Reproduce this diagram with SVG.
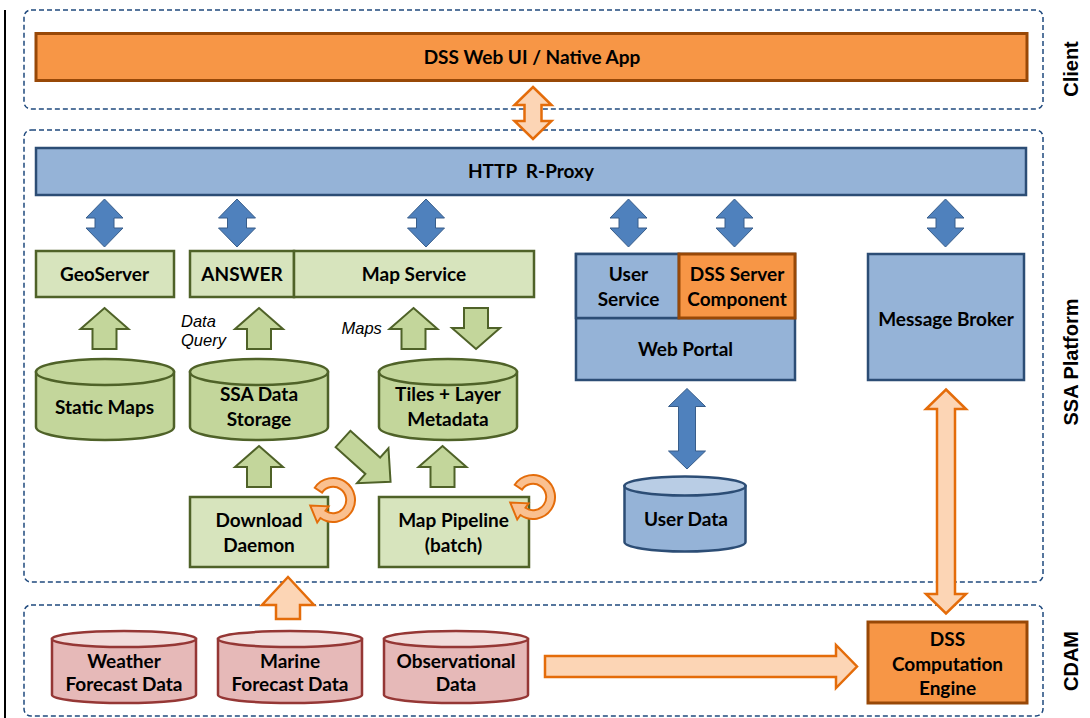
<svg xmlns="http://www.w3.org/2000/svg" xmlns:xlink="http://www.w3.org/1999/xlink" width="1090" height="718" viewBox="0 0 1090 718">
<style>
.grp{fill:none;stroke:#1F497D;stroke-width:1.5;stroke-dasharray:5 3}
.org{fill:#F79646;stroke:#984807;stroke-width:3}
.blu{fill:#95B3D7;stroke:#2C4D75;stroke-width:2.5}
.grn{fill:#D7E4BD;stroke:#4F6228;stroke-width:2.5}
.gcyl{fill:#C3D69B;stroke:#4F6228;stroke-width:2.5}
.rcyl{fill:#E6B9B8;stroke:#953735;stroke-width:2.5}
.rtop{fill:#F2DCDB;stroke:#953735;stroke-width:2.5}
.bcyl{fill:#95B3D7;stroke:#2C4D75;stroke-width:2.5}
.btop{fill:#B9CDE5;stroke:#2C4D75;stroke-width:2.5}
.garr{fill:#C3D69B;stroke:#4F6228;stroke-width:2}
.barr{fill:#4F81BD;stroke:#385D8A;stroke-width:1}
.oarr{fill:#FCD5B5;stroke:#E46C0A;stroke-width:2.5}
.carr{fill:#FAC090;stroke:#E46C0A;stroke-width:1.8}
.t{font-family:Lato,"Liberation Sans",sans-serif;font-weight:bold;font-size:19px;fill:#000;text-anchor:middle}
.lab{font-family:"Liberation Sans",Arial,sans-serif;font-weight:bold;font-size:20px;fill:#000;text-anchor:middle}
.it{font-family:"Liberation Sans",Arial,sans-serif;font-style:italic;font-size:16.5px;fill:#000}
</style>
<defs>
<path id="gUp" d="M0,0 L24,21 L12,21 L12,41 L-12,41 L-12,21 L-24,21 Z"/>
<path id="gDown" d="M0,0 L24,-21 L12,-21 L12,-41 L-12,-41 L-12,-21 L-24,-21 Z"/>
<path id="bDbl" d="M0,-24 L18.5,-5 L9.5,-5 L9.5,5 L18.5,5 L0,24 L-18.5,5 L-9.5,5 L-9.5,-5 L-18.5,-5 Z"/>
<path id="circ" d="M-16.58,-11.18 A20,20 0 1 1 -11.47,16.38 L-14.34,20.48 L-20.7,5.1 L-4.02,5.73 L-6.88,9.83 A12,12 0 1 0 -9.95,-6.71 Z"/>
</defs>

<line x1="5" y1="10" x2="5" y2="718" stroke="#000" stroke-width="2"/>

<g id="groups">
<rect class="grp" x="24" y="10" width="1019" height="99" rx="7"/>
<rect class="grp" x="24" y="130" width="1019" height="452" rx="7"/>
<rect class="grp" x="24" y="605" width="1019" height="111" rx="7"/>
<text class="lab" transform="translate(1078,69) rotate(-90)">Client</text>
<text class="lab" transform="translate(1078,362) rotate(-90)">SSA Platform</text>
<text class="lab" transform="translate(1078,661) rotate(-90)">CDAM</text>
</g>

<g id="dss-web-ui">
<rect class="org" x="36" y="33.5" width="991" height="47"/>
<text class="t" x="532" y="64">DSS Web UI / Native App</text>
</g>

<g id="http-rproxy">
<rect class="blu" x="36" y="148" width="990" height="47"/>
<text class="t" x="531" y="178" xml:space="preserve">HTTP  R-Proxy</text>
</g>

<g id="geoserver">
<rect class="grn" x="36" y="251" width="138" height="46"/>
<text class="t" x="104.5" y="281">GeoServer</text>
</g>

<g id="answer">
<rect class="grn" x="190" y="251" width="104" height="46"/>
<text class="t" x="242" y="281">ANSWER</text>
</g>

<g id="map-service">
<rect class="grn" x="294" y="251" width="240" height="46"/>
<text class="t" x="414" y="281">Map Service</text>
</g>

<g id="static-maps">
<path class="gcyl" d="M36,372 L36,427 A69,13 0 0 0 174,427 L174,372 Z"/>
<ellipse class="gcyl" cx="105" cy="372" rx="69" ry="13"/>
<text class="t" x="104.5" y="414">Static Maps</text>
</g>

<g id="ssa-data-storage">
<path class="gcyl" d="M190,372 L190,427 A69,13 0 0 0 328,427 L328,372 Z"/>
<ellipse class="gcyl" cx="259" cy="372" rx="69" ry="13"/>
<text class="t" x="259" y="401">SSA Data</text>
<text class="t" x="259" y="426">Storage</text>
</g>

<g id="tiles-layer-metadata">
<path class="gcyl" d="M379,372 L379,427 A69,13 0 0 0 517,427 L517,372 Z"/>
<ellipse class="gcyl" cx="448" cy="372" rx="69" ry="13"/>
<text class="t" x="448" y="401">Tiles + Layer</text>
<text class="t" x="448" y="426">Metadata</text>
</g>

<g id="download-daemon">
<rect class="grn" x="190" y="497" width="138" height="70"/>
<text class="t" x="259" y="527">Download</text>
<text class="t" x="259" y="552">Daemon</text>
</g>

<g id="map-pipeline">
<rect class="grn" x="379" y="497" width="150" height="70"/>
<text class="t" x="453.5" y="527">Map Pipeline</text>
<text class="t" x="453.5" y="552">(batch)</text>
</g>

<g id="web-portal">
<rect class="blu" x="576" y="254" width="219" height="126"/>
<line x1="576" y1="318" x2="795" y2="318" stroke="#2C4D75" stroke-width="2.5"/>
<text class="t" x="685.5" y="356">Web Portal</text>
</g>

<g id="user-service">
<rect class="blu" x="576" y="254" width="103" height="64"/>
<text class="t" x="628.5" y="281">User</text>
<text class="t" x="628.5" y="306">Service</text>
</g>

<g id="dss-server-component">
<rect class="org" x="679" y="254" width="116" height="64"/>
<text class="t" x="737" y="281">DSS Server</text>
<text class="t" x="737" y="306">Component</text>
</g>

<g id="message-broker">
<rect class="blu" x="868" y="254" width="156" height="126"/>
<text class="t" x="946" y="326">Message Broker</text>
</g>

<g id="user-data">
<path class="bcyl" d="M624.5,486 L624.5,542 A60.5,9.5 0 0 0 745.5,542 L745.5,486 Z"/>
<ellipse class="btop" cx="685" cy="486" rx="60.5" ry="9.5"/>
<text class="t" x="686" y="526">User Data</text>
</g>

<g id="weather-forecast-data">
<path class="rcyl" d="M52,639 L52,695 A72,8 0 0 0 196,695 L196,639 Z"/>
<ellipse class="rtop" cx="124" cy="639" rx="72" ry="8"/>
<text class="t" x="124" y="668">Weather</text>
<text class="t" x="124" y="691">Forecast Data</text>
</g>

<g id="marine-forecast-data">
<path class="rcyl" d="M218,639 L218,695 A72,8 0 0 0 362,695 L362,639 Z"/>
<ellipse class="rtop" cx="290" cy="639" rx="72" ry="8"/>
<text class="t" x="290" y="668">Marine</text>
<text class="t" x="290" y="691">Forecast Data</text>
</g>

<g id="observational-data">
<path class="rcyl" d="M384,639 L384,695 A72,8 0 0 0 528,695 L528,639 Z"/>
<ellipse class="rtop" cx="456" cy="639" rx="72" ry="8"/>
<text class="t" x="456" y="668">Observational</text>
<text class="t" x="456" y="691">Data</text>
</g>

<g id="dss-computation-engine">
<rect class="org" x="868" y="622" width="159" height="81"/>
<text class="t" x="947.5" y="646">DSS</text>
<text class="t" x="947.5" y="671">Computation</text>
<text class="t" x="947.5" y="695">Engine</text>
</g>

<g id="connectors">
<path class="oarr" d="M533,87 L551.5,105 L541.5,105 L541.5,121 L551.5,121 L533,139 L514.5,121 L524.5,121 L524.5,105 L514.5,105 Z"/>
<use href="#bDbl" class="barr" x="104.5" y="223"/>
<use href="#bDbl" class="barr" x="237" y="223"/>
<use href="#bDbl" class="barr" x="426" y="223"/>
<use href="#bDbl" class="barr" x="628.5" y="223"/>
<use href="#bDbl" class="barr" x="734.5" y="223"/>
<use href="#bDbl" class="barr" x="945.5" y="223"/>
<use href="#gUp" class="garr" x="104.5" y="308"/>
<use href="#gUp" class="garr" x="259" y="308"/>
<use href="#gUp" class="garr" x="413.5" y="308"/>
<use href="#gDown" class="garr" x="476" y="349"/>
<use href="#gUp" class="garr" x="259" y="446"/>
<use href="#gUp" class="garr" x="442.5" y="446"/>
<path class="garr" transform="translate(343,439) rotate(42)" d="M0,-11 L40,-11 L40,-23.5 L64,0 L40,23.5 L40,11 L0,11 Z"/>
<use href="#circ" class="carr" transform="translate(333,500) scale(1.1)"/>
<use href="#circ" class="carr" transform="translate(533,497) scale(1.1)"/>
<path class="barr" d="M687,388.5 L705.5,406.5 L695.5,406.5 L695.5,451 L705.5,451 L687,469 L668.5,451 L678.5,451 L678.5,406.5 L668.5,406.5 Z"/>
<path class="oarr" d="M946,389.5 L966,409 L955,409 L955,594 L966,594 L946,613.5 L926,594 L937,594 L937,409 L926,409 Z"/>
<path class="oarr" d="M288,577 L314,605 L300,605 L300,619 L276,619 L276,605 L262,605 Z"/>
<path class="oarr" d="M545,656 L836,656 L836,645 L857,666.5 L836,688 L836,677 L545,677 Z"/>
<text class="it" x="181" y="327">Data</text>
<text class="it" x="181" y="346">Query</text>
<text class="it" x="341.5" y="334">Maps</text>
</g>
</svg>
